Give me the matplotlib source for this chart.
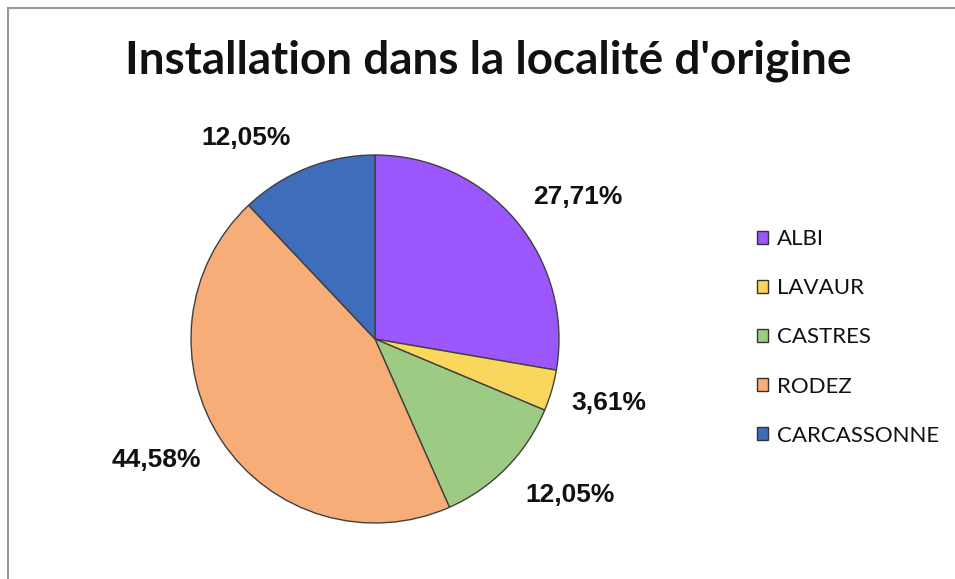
import matplotlib
matplotlib.use("Agg")
import matplotlib.pyplot as plt
from matplotlib.patches import Patch
from matplotlib.lines import Line2D

# ---- data ----
title = "Installation dans la localité d'origine"
categories = ["ALBI", "LAVAUR", "CASTRES", "RODEZ", "CARCASSONNE"]
values = [27.71, 3.61, 12.05, 44.58, 12.05]
colors = ["#9B57FB", "#F9D65C", "#9DCB83", "#F7AD78", "#3E6DBB"]

# label placement (radius units, relative to pie centre) -- layout only
label_offsets = [(1.10, 0.77), (1.27, -0.35), (1.06, -0.85), (-1.19, -0.66), (-0.70, 1.09)]

W, H = 955, 579
fig = plt.figure(figsize=(W / 100, H / 100), dpi=100)
fig.patch.set_facecolor("white")

cx, cy, r = 375, 339, 184
half = 1.25 * r
ax = fig.add_axes([(cx - half) / W, (H - cy - half) / H, 2 * half / W, 2 * half / H])
wedges, _ = ax.pie(values, colors=colors, startangle=90, counterclock=False,
                   wedgeprops=dict(edgecolor="#404040", linewidth=1.0))
ax.set_xlim(-1.25, 1.25)
ax.set_ylim(-1.25, 1.25)
ax.set_aspect("equal")

for v, (lx, ly) in zip(values, label_offsets):
    ax.text(lx, ly, f"{v:.2f}".replace(".", ",") + "%", ha="center", va="center",
            fontsize=19, fontweight="bold", family="Liberation Sans", color="#111111",
            clip_on=False)

fig.text(0.511, 1 - 73 / H, title, ha="center", va="baseline",
         fontsize=33, fontweight="bold", family="Lato", color="#111111")

handles = [Patch(facecolor=c, edgecolor="#333333", linewidth=1.0) for c in colors]
fig.legend(handles, categories, loc="center left",
           bbox_to_anchor=(757 / W, 1 - 337.5 / H), frameon=False,
           prop=dict(family="Lato", size=16), handlelength=0.5, handleheight=0.5,
           handletextpad=0.4, labelspacing=1.31, borderpad=0, borderaxespad=0,
           labelcolor="#111111")

# chart border (top and left visible)
fig.add_artist(Line2D([7.5 / W, 7.5 / W], [0, 1 - 7.5 / H], color="#999999", lw=1.5))
fig.add_artist(Line2D([7.5 / W, 1], [1 - 7.5 / H, 1 - 7.5 / H], color="#999999", lw=1.5))

fig.savefig("out.png", dpi=100, facecolor="white")
